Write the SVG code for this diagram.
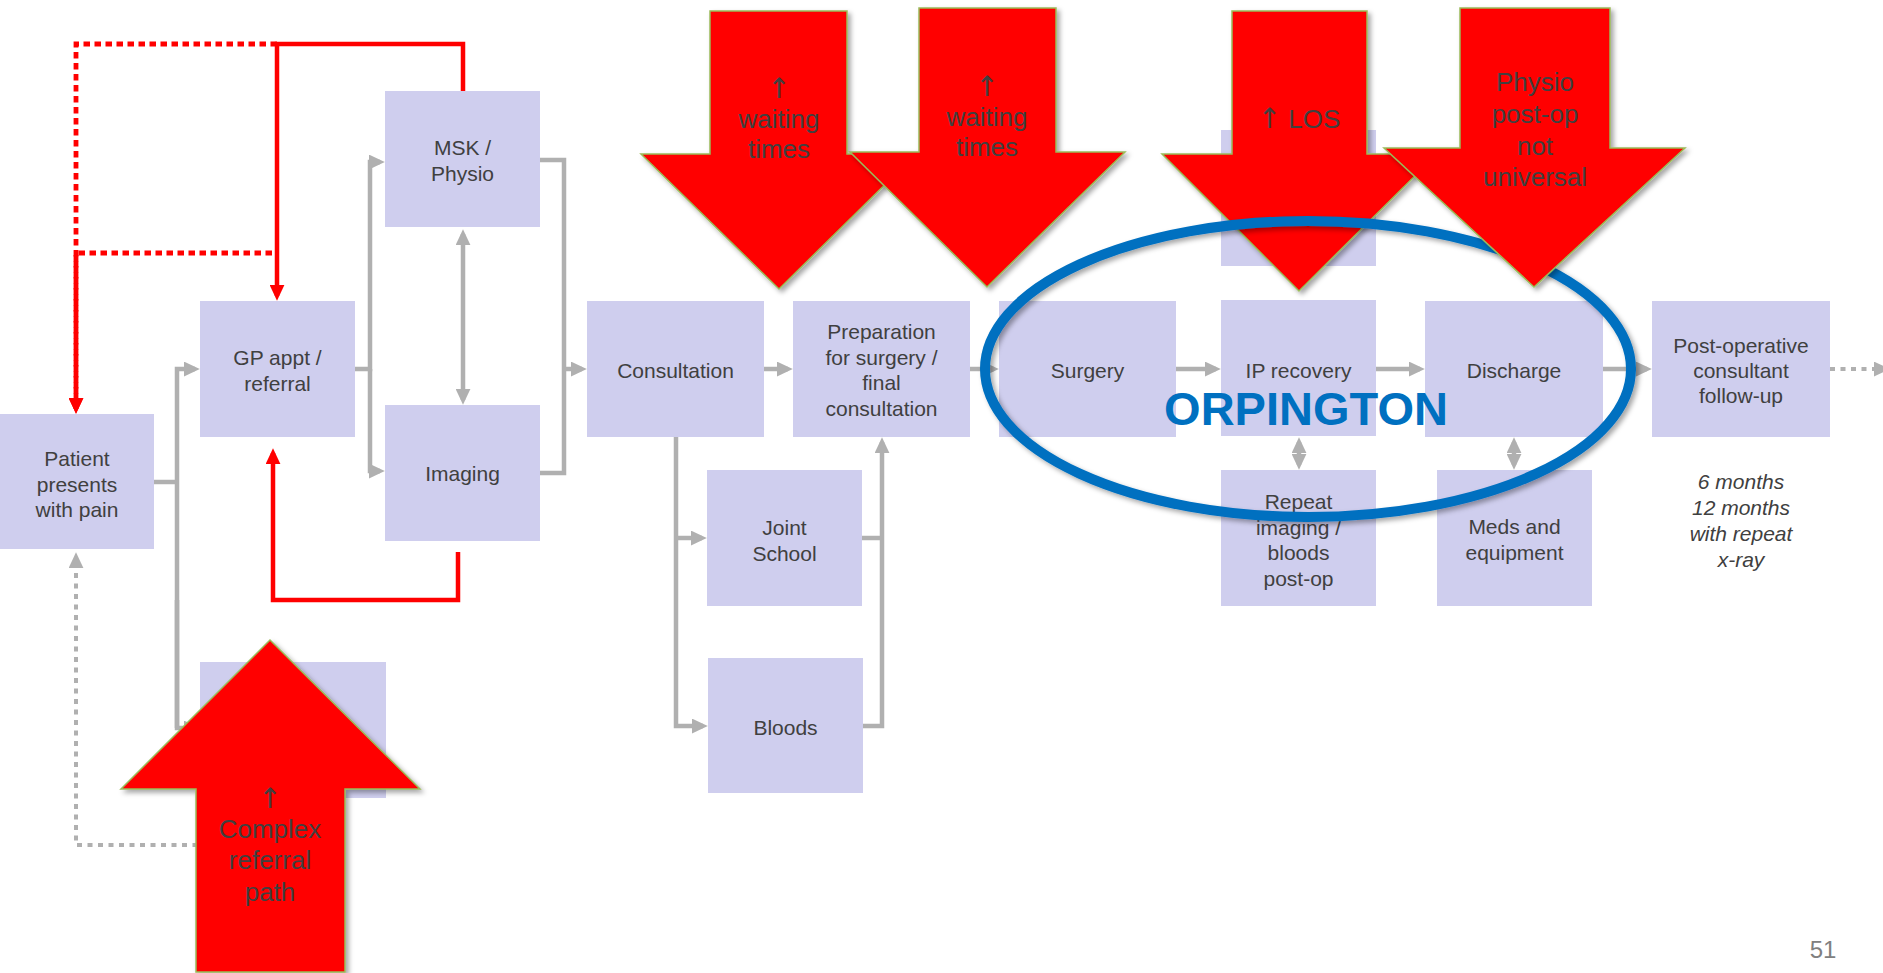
<svg xmlns="http://www.w3.org/2000/svg" width="1883" height="973" viewBox="0 0 1883 973">
<style>
.box{fill:#CFCEEE}
.t{font-family:"Liberation Sans",Arial,sans-serif;font-size:21px;fill:#404040;text-anchor:middle}
.it{font-style:italic}
.g{fill:none;stroke:#B0B0B0;stroke-width:4.5}
.gd{fill:none;stroke:#B0B0B0;stroke-width:4;stroke-dasharray:5 5.5}
.r{fill:none;stroke:#FF0000;stroke-width:4.5}
.rd{fill:none;stroke:#FF0000;stroke-width:4.8;stroke-dasharray:6.5 4.5}
.big{fill:#FF0000;stroke:#9BBB59;stroke-width:1.5;filter:url(#sh)}
.bt{font-family:"Liberation Sans",Arial,sans-serif;font-size:26px;fill:#404040;text-anchor:middle}
.up{font-family:"DejaVu Sans",sans-serif;font-size:28px;fill:#404040;text-anchor:middle}
</style>
<defs>
<filter id="sh" x="-10%" y="-10%" width="130%" height="130%"><feDropShadow dx="3" dy="3" stdDeviation="2.5" flood-color="#000" flood-opacity="0.35"/></filter>
<marker id="ag" viewBox="0 0 10 10" refX="7" refY="5" markerWidth="16" markerHeight="15" markerUnits="userSpaceOnUse" orient="auto-start-reverse" preserveAspectRatio="none"><path d="M0,0 L10,5 L0,10 z" fill="#B0B0B0"/></marker>
<marker id="ar" viewBox="0 0 10 10" refX="7" refY="5" markerWidth="16" markerHeight="15" markerUnits="userSpaceOnUse" orient="auto-start-reverse" preserveAspectRatio="none"><path d="M0,0 L10,5 L0,10 z" fill="#FF0000"/></marker>
</defs>
<rect width="1883" height="973" fill="#FFFFFF"/>

<g id="node-patient"><rect class="box" x="0" y="414" width="154" height="135"/><text class="t" x="77" y="466">Patient<tspan x="77" dy="25.5">presents</tspan><tspan x="77" dy="25.5">with pain</tspan></text></g>
<g id="node-gp"><rect class="box" x="200" y="301" width="155" height="136"/><text class="t" x="277.5" y="365">GP appt /<tspan x="277.5" dy="26">referral</tspan></text></g>
<g id="node-msk"><rect class="box" x="385" y="91" width="155" height="136"/><text class="t" x="462.5" y="155">MSK /<tspan x="462.5" dy="26">Physio</tspan></text></g>
<g id="node-imaging"><rect class="box" x="385" y="405" width="155" height="136"/><text class="t" x="462.5" y="481">Imaging</text></g>
<g id="node-hidden-a"><rect class="box" x="200" y="662" width="186" height="136"/></g>
<g id="node-consultation"><rect class="box" x="587" y="301" width="177" height="136"/><text class="t" x="675.5" y="378">Consultation</text></g>
<g id="node-preparation"><rect class="box" x="793" y="301" width="177" height="136"/><text class="t" x="881.5" y="339">Preparation<tspan x="881.5" dy="25.5">for surgery /</tspan><tspan x="881.5" dy="25.5">final</tspan><tspan x="881.5" dy="25.5">consultation</tspan></text></g>
<g id="node-joint"><rect class="box" x="707" y="470" width="155" height="136"/><text class="t" x="784.5" y="535">Joint<tspan x="784.5" dy="25.5">School</tspan></text></g>
<g id="node-bloods"><rect class="box" x="708" y="658" width="155" height="135"/><text class="t" x="785.5" y="735">Bloods</text></g>
<g id="node-surgery"><rect class="box" x="999" y="301" width="177" height="136"/><text class="t" x="1087.5" y="378">Surgery</text></g>
<g id="node-hidden-b"><rect class="box" x="1221" y="130" width="155" height="136"/></g>
<g id="node-ip"><rect class="box" x="1221" y="300" width="155" height="136"/><text class="t" x="1298.5" y="378">IP recovery</text></g>
<g id="node-discharge"><rect class="box" x="1425" y="301" width="178" height="136"/><text class="t" x="1514" y="378">Discharge</text></g>
<g id="node-postop"><rect class="box" x="1652" y="301" width="178" height="136"/><text class="t" x="1741" y="353">Post-operative<tspan x="1741" dy="25">consultant</tspan><tspan x="1741" dy="25">follow-up</tspan></text></g>
<g id="node-repeat"><rect class="box" x="1221" y="470" width="155" height="136"/><text class="t" x="1298.5" y="509">Repeat<tspan x="1298.5" dy="25.5">imaging /</tspan><tspan x="1298.5" dy="25.5">bloods</tspan><tspan x="1298.5" dy="25.5">post-op</tspan></text></g>
<g id="node-meds"><rect class="box" x="1437" y="470" width="155" height="136"/><text class="t" x="1514.5" y="534">Meds and<tspan x="1514.5" dy="26">equipment</tspan></text></g>
<g id="note-followup"><text class="t it" x="1741" y="489">6 months<tspan x="1741" dy="26">12 months</tspan><tspan x="1741" dy="26">with repeat</tspan><tspan x="1741" dy="26">x-ray</tspan></text></g>

<g id="connectors">
<path class="g" d="M154,482 H177"/>
<path class="g" d="M177,728 V369 H195" marker-end="url(#ag)"/>
<path class="g" d="M177,600 V728 H195" marker-end="url(#ag)"/>
<path class="g" d="M355,369 H370 V162 H380" marker-end="url(#ag)"/>
<path class="g" d="M370,369 V471 H380" marker-end="url(#ag)"/>
<path class="g" d="M463,234 V400" marker-start="url(#ag)" marker-end="url(#ag)"/>
<path class="g" d="M540,160 H564 V473 H540"/>
<path class="g" d="M564,369 H582" marker-end="url(#ag)"/>
<path class="g" d="M764,369 H788" marker-end="url(#ag)"/>
<path class="g" d="M676,437 V726 H703" marker-end="url(#ag)"/>
<path class="g" d="M676,538 H702" marker-end="url(#ag)"/>
<path class="g" d="M862,538 H882"/>
<path class="g" d="M863,726 H882 V442" marker-end="url(#ag)"/>
<path class="g" d="M970,369 H994" marker-end="url(#ag)"/>
<path class="g" d="M1176,369 H1216" marker-end="url(#ag)"/>
<path class="g" d="M1376,369 H1420" marker-end="url(#ag)"/>
<path class="g" d="M1603,369 H1647" marker-end="url(#ag)"/>
<path class="gd" d="M1830,369 H1885" marker-end="url(#ag)"/>
<path class="g" d="M1299,442 V465" marker-start="url(#ag)" marker-end="url(#ag)"/>
<path class="g" d="M1514,442 V465" marker-start="url(#ag)" marker-end="url(#ag)"/>
<path class="gd" d="M250,845 H76 V557" marker-end="url(#ag)"/>
<path class="r" d="M463,91 V44 H277 V296" marker-end="url(#ar)"/>
<path class="rd" d="M277,44 H76 V409" marker-end="url(#ar)"/>
<path class="rd" d="M272,253 H76 V409" marker-end="url(#ar)"/>
<path class="r" d="M458,552 V600 H273 V453" marker-end="url(#ar)"/>
</g>

<g id="callout-complex"><path class="big" d="M270,640 L420,789 H345 V972 H196 V789 H121 Z"/><text class="up" x="270" y="808">↑</text><text class="bt" x="270" y="838">Complex<tspan x="270" dy="31">referral</tspan><tspan x="270" dy="32">path</tspan></text></g>
<g id="callout-wait1"><path class="big" d="M710,11 H847 V154 H916 L779,289 L641,154 H710 Z"/><text class="up" x="779" y="98">↑</text><text class="bt" x="779" y="128">waiting<tspan x="779" dy="30">times</tspan></text></g>
<g id="callout-wait2"><path class="big" d="M919,8 H1056 V152 H1125 L987,287 L850,152 H919 Z"/><text class="up" x="987" y="96">↑</text><text class="bt" x="987" y="126">waiting<tspan x="987" dy="30">times</tspan></text></g>
<g id="callout-los"><path class="big" d="M1232,11 H1367 V154 H1437 L1299,291 L1162,154 H1232 Z"/><text class="bt" x="1299" y="128"><tspan class="up">↑</tspan> LOS</text></g>
<g id="orpington"><ellipse cx="1308" cy="369" rx="323" ry="148" fill="none" stroke="#0070C0" stroke-width="10" filter="url(#sh)"/><text x="1306" y="425" text-anchor="middle" font-family="Liberation Sans,Arial,sans-serif" font-weight="bold" font-size="47" fill="#0070C0">ORPINGTON</text></g>
<g id="callout-physio"><path class="big" d="M1460,8 H1610 V148 H1685 L1534,287 L1384,148 H1460 Z"/><text class="bt" x="1535" y="91">Physio<tspan x="1535" dy="32">post-op</tspan><tspan x="1535" dy="32">not</tspan><tspan x="1535" dy="31">universal</tspan></text></g>
<text x="1823" y="958" text-anchor="middle" font-family="Liberation Sans,Arial,sans-serif" font-size="24" fill="#808080">51</text>
</svg>
